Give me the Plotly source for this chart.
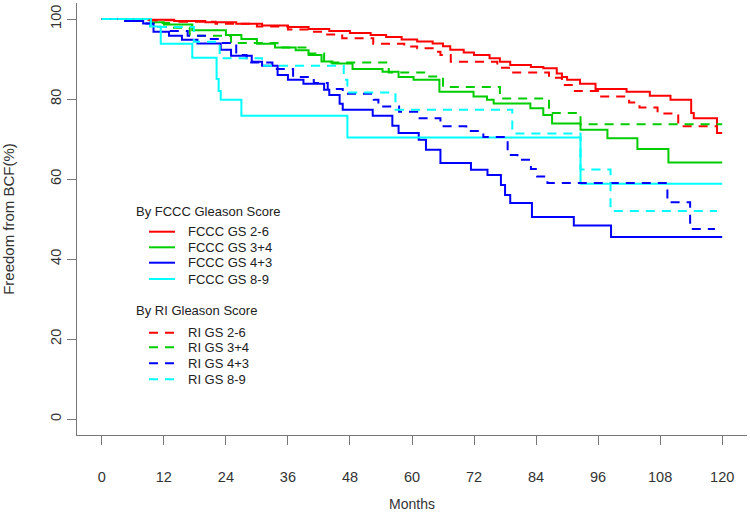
import plotly.graph_objects as go

# ---------------- data ----------------
x_ticks = [0, 12, 24, 36, 48, 60, 72, 84, 96, 108, 120]
y_ticks = [0, 20, 40, 60, 80, 100]

fccc_26_months = [0, 9, 14, 20, 26, 31, 36, 40, 44, 48, 52, 55, 58, 61, 64, 66, 67.4, 70, 72, 75, 77, 79, 83,
                  85.4, 88, 89, 90, 92.5, 95.5, 101.5, 106, 110, 114, 114.5, 119, 120]
fccc_26_surv = [100, 99.8, 99.5, 99.2, 98.8, 98.4, 98.0, 97.5, 97.0, 96.5, 96.0, 95.5, 94.9, 94.4, 93.9, 93.2,
                92.3, 91.6, 91.0, 90.2, 89.3, 88.5, 88.0, 87.7, 86.4, 85.5, 84.8, 83.8, 82.5, 81.8, 80.8, 79.8,
                76.5, 75.2, 71.5, 71.5]

fccc_34_months = [0, 9.5, 12, 17.5, 24, 27, 30, 33.5, 37.5, 40, 42.5, 44.6, 48.5, 54.3, 57.4, 60.3, 65.3, 71.9,
                  74.5, 75.8, 82.9, 85.4, 87.1, 92.6, 97.8, 103.6, 109.6, 120]
fccc_34_surv = [100, 99.2, 98.6, 97.2, 96.0, 95.0, 93.8, 92.9, 92.2, 91.0, 89.4, 88.9, 87.5, 86.8, 85.5, 84.8,
                81.8, 80.6, 79.8, 78.9, 77.7, 76.0, 73.9, 72.3, 70.2, 67.5, 64.1, 64.1]

fccc_43_months = [0, 4.5, 8, 10, 13, 15.5, 18.5, 23, 25, 29, 31, 34, 36, 39, 43, 44, 46, 46.6, 52.4, 56.2, 57.4,
                  61.3, 62.7, 65.5, 71.4, 74.6, 77.2, 78, 79, 83.2, 91.3, 98.5, 120]
fccc_43_surv = [100, 99.5, 98.9, 96.8, 95.8, 94.8, 93.9, 92.3, 90.8, 89.3, 88.3, 86.0, 84.8, 83.8, 82.3, 81.0,
                78.8, 77.3, 75.8, 73.3, 71.5, 69.8, 67.3, 64.0, 62.3, 61.0, 58.5, 56.0, 54.0, 50.5, 48.4, 45.5,
                45.5]

fccc_89_months = [0, 9.3, 11.4, 17.5, 22.2, 22.6, 23.0, 27.0, 47.5, 92.6, 120]
fccc_89_surv = [100, 98.1, 93.8, 90.3, 85.0, 82.0, 79.8, 75.8, 70.4, 58.8, 58.8]

ri_26_months = [0, 9, 15, 22, 30, 36, 40, 43, 46.5, 52.5, 58.5, 61, 64, 65.5, 67.5, 76.5, 79, 86.5, 89, 91.5,
                96, 102, 104, 107.5, 111.5, 119, 120]
ri_26_surv = [100, 99.7, 99.3, 98.8, 98.1, 97.4, 96.8, 96.1, 95.2, 93.8, 93.1, 92.7, 91.8, 91.0, 89.3, 87.8,
              86.6, 85.3, 83.5, 82.0, 80.6, 79.1, 77.9, 76.4, 73.2, 71.5, 71.5]

ri_34_months = [0, 9.5, 13, 17, 25, 34, 40, 43, 55.5, 62.6, 66, 77, 86.5, 92.6, 120]
ri_34_surv = [100, 99.0, 97.8, 95.8, 94.0, 92.9, 91.4, 89.1, 86.6, 85.6, 83.0, 80.1, 76.5, 73.7, 73.7]

ri_43_months = [0, 4.5, 8, 10, 13, 16.6, 20.5, 23, 26, 28, 33, 37, 41, 43.7, 46.6, 52.6, 53.5, 57.5, 61, 65.5,
                70.5, 73.8, 78.5, 80.4, 83, 84.2, 86.2, 109.4, 113.8, 118.6]
ri_43_surv = [100, 99.5, 98.9, 98.0, 97.0, 95.8, 95.0, 94.0, 91.0, 89.1, 87.5, 85.5, 84.0, 82.5, 81.3, 79.8,
              78.1, 76.8, 75.2, 73.2, 72.0, 70.5, 66.0, 64.8, 62.5, 60.6, 59.0, 54.2, 47.5, 47.5]

ri_89_months = [0, 9.5, 17.8, 22.8, 31, 46.8, 47.5, 56.8, 79.4, 92.6, 98.4, 119]
ri_89_surv = [100, 98.0, 94.3, 90.2, 88.3, 84.8, 81.6, 77.3, 71.4, 62.4, 52.0, 52.0]

series_names = ["FCCC GS 2-6", "FCCC GS 3+4", "FCCC GS 4+3", "FCCC GS 8-9",
                "RI GS 2-6", "RI GS 3+4", "RI GS 4+3", "RI GS 8-9"]
group_titles = ["By FCCC Gleason Score", "By RI Gleason Score"]

# ---------------- styling ----------------
colors = ["#FF0000", "#00CD00", "#0000FF", "#00FFFF"]
dashes = ["solid", "9px,7px"]
axis_color = "#777777"
text_color = "#222222"
FONT = "Liberation Sans, Arial, sans-serif"

W, H = 750, 516
ML, MR, MT, MB = 77, 3, 3, 81
PW, PH = W - ML - MR, H - MT - MB


def px_x(px):
    return (px - ML) / PW


def px_y(py):
    return (H - MB - py) / PH


series = [
    (fccc_26_months, fccc_26_surv), (fccc_34_months, fccc_34_surv),
    (fccc_43_months, fccc_43_surv), (fccc_89_months, fccc_89_surv),
    (ri_26_months, ri_26_surv), (ri_34_months, ri_34_surv),
    (ri_43_months, ri_43_surv), (ri_89_months, ri_89_surv),
]

fig = go.Figure()
for i, ((t, s), name) in enumerate(zip(series, series_names)):
    grp = 0 if i < 4 else 1
    fig.add_trace(go.Scatter(
        x=t, y=s, mode="lines", name=name,
        line=dict(shape="hv", color=colors[i % 4], width=2, dash=dashes[grp]),
        showlegend=False, hoverinfo="skip",
    ))

# ---------------- legend (R-style, two titled blocks) ----------------
header_y = [211, 310.7]
row_y = [[231.7, 247.3, 262.7, 279], [332.7, 347.3, 363.3, 379.3]]
annotations = []
shapes = []
for g in range(2):
    annotations.append(dict(
        text=group_titles[g], xref="paper", yref="paper",
        x=px_x(134), y=px_y(header_y[g]), xanchor="left", yanchor="middle",
        showarrow=False, font=dict(size=13, color=text_color, family=FONT),
    ))
    for k in range(4):
        idx = g * 4 + k
        yy = px_y(row_y[g][k])
        shapes.append(dict(
            type="line", xref="paper", yref="paper",
            x0=px_x(149), x1=px_x(175), y0=yy, y1=yy,
            line=dict(color=colors[k], width=2, dash=dashes[g]),
        ))
        annotations.append(dict(
            text=series_names[idx], xref="paper", yref="paper",
            x=px_x(185.5), y=yy, xanchor="left", yanchor="middle",
            showarrow=False, font=dict(size=13, color=text_color, family=FONT),
        ))

fig.update_layout(
    width=W, height=H,
    margin=dict(l=ML, r=MR, t=MT, b=MB),
    paper_bgcolor="white", plot_bgcolor="white",
    font=dict(family=FONT, size=14, color="#333"),
    showlegend=False,
    annotations=annotations,
    shapes=shapes,
    xaxis=dict(
        range=[-4.8, 124.8], tickvals=x_ticks, ticktext=[str(v) for v in x_ticks],
        showline=True, linecolor=axis_color, linewidth=1.3, mirror=False,
        ticks="outside", ticklen=9, tickcolor=axis_color, tickwidth=1.3,
        showgrid=False, zeroline=False, ticklabelstandoff=19,
        tickfont=dict(size=14.5),
        title=dict(text="Months", standoff=15, font=dict(size=14)),
        automargin=False,
    ),
    yaxis=dict(
        range=[-4, 104], tickvals=y_ticks, ticktext=[str(v) for v in y_ticks],
        showline=True, linecolor=axis_color, linewidth=1.3, mirror=False,
        ticks="outside", ticklen=9, tickcolor=axis_color, tickwidth=1.3,
        showgrid=False, zeroline=False, tickangle=-90,
        tickfont=dict(size=14.5),
        title=dict(text="Freedom from BCF(%)", standoff=30, font=dict(size=15)),
        automargin=False,
    ),
)

fig.write_html("out.html", config={"displayModeBar": False},
               post_script="document.body.style.margin='0px';")
